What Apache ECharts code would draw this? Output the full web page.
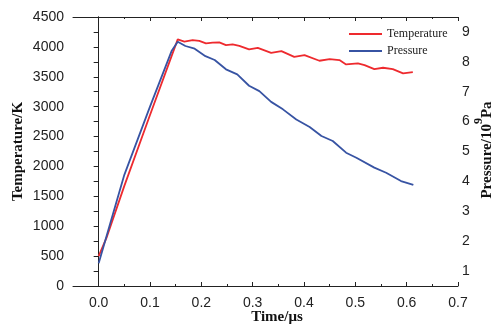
<!DOCTYPE html>
<html><head><meta charset="utf-8">
<script src="https://cdn.jsdelivr.net/npm/echarts@6/dist/echarts.min.js"></script>
<style>html,body{margin:0;padding:0;background:#fff}#c{width:493px;height:324px}</style>
</head><body><div id="c"></div>
<script>
// Temperature (K) vs time (us)
const timeT = [0, 0.015, 0.05, 0.1, 0.154, 0.167, 0.183, 0.196, 0.209, 0.222, 0.235, 0.248, 0.261, 0.274, 0.293, 0.310, 0.336, 0.356, 0.381, 0.401, 0.430, 0.450, 0.469, 0.482, 0.505, 0.518, 0.537, 0.554, 0.573, 0.593, 0.612];
const temperature = [500, 800, 1675, 2860, 4125, 4088, 4112, 4100, 4058, 4070, 4075, 4030, 4042, 4018, 3958, 3985, 3901, 3930, 3834, 3863, 3768, 3796, 3779, 3707, 3724, 3696, 3629, 3651, 3629, 3557, 3579];
// Pressure (10^9 Pa) vs time (us)
const timeP = [0, 0.015, 0.05, 0.1, 0.142, 0.154, 0.169, 0.187, 0.208, 0.226, 0.248, 0.270, 0.293, 0.313, 0.336, 0.359, 0.385, 0.411, 0.434, 0.456, 0.482, 0.502, 0.537, 0.560, 0.589, 0.613];
const pressure = [1.26, 2.15, 4.22, 6.5, 8.36, 8.67, 8.53, 8.44, 8.19, 8.06, 7.75, 7.58, 7.20, 7.02, 6.66, 6.41, 6.07, 5.82, 5.52, 5.35, 4.96, 4.79, 4.46, 4.29, 4.01, 3.88];
// tick labels
const xMajor = [0, 0.1, 0.2, 0.3, 0.4, 0.5, 0.6, 0.7];
const xMinor = [0.05, 0.15, 0.25, 0.35, 0.45, 0.55, 0.65];
const rightMajor = [1, 2, 3, 4, 5, 6, 7, 8, 9];
const rightMinor = [1.5, 2.5, 3.5, 4.5, 5.5, 6.5, 7.5, 8.5];

const axisColor = '#222';
const labelFont = {fontFamily: 'Liberation Sans', fontSize: 14, color: '#222'};
const titleFont = {fontFamily: 'Liberation Serif', fontWeight: 'bold', fontSize: 15, color: '#111'};

// right-axis title pieces: "Pressure/10" + superscript "9" + "Pa"
const rtParts = ['Pressure/10', '9', 'Pa'];
const mctx = document.createElement('canvas').getContext('2d');
function tw(s, size) { mctx.font = 'bold ' + size + 'px "Liberation Serif"'; return mctx.measureText(s).width; }
const w0 = tw(rtParts[0], 15), w1 = tw(rtParts[1], 12), w2 = tw(rtParts[2], 15);
const W = w0 + w1 + w2;
const tStyle = (txt, size) => ({text: txt, fontFamily: 'Liberation Serif', fontWeight: 'bold', fontSize: size, fill: '#111', align: 'left', verticalAlign: 'middle'});

function xAx(pos, ticks, len, showLine, showLabel) {
  return {
    type: 'value', position: pos, min: -0.05, max: 0.7,
    axisLine: {show: showLine, onZero: false, lineStyle: {color: axisColor, width: 1}},
    axisTick: {show: true, inside: true, length: len, customValues: ticks, lineStyle: {color: axisColor}},
    axisLabel: showLabel ? Object.assign({show: true, margin: 10, customValues: xMajor, formatter: v => v.toFixed(1)}, labelFont) : {show: false},
    splitLine: {show: false}
  };
}

const chart = echarts.init(document.getElementById('c'));
chart.setOption({
  animation: false,
  backgroundColor: '#fff',
  grid: {left: 73, right: 35, top: 17, bottom: 38, containLabel: false, outerBoundsMode: 'none'},
  legend: {
    data: ['Temperature', 'Pressure'], orient: 'vertical', left: 344, top: 22,
    itemWidth: 33, itemHeight: 2, itemGap: 3, icon: 'rect',
    textStyle: {fontFamily: 'Liberation Serif', fontSize: 12, color: '#222', lineHeight: 14}
  },
  graphic: [{
    type: 'group', x: 487, y: 150, rotation: Math.PI / 2,
    children: [
      {type: 'text', x: -W / 2, y: 0, style: tStyle(rtParts[0], 15)},
      {type: 'text', x: -W / 2 + w0, y: -8.5, style: tStyle(rtParts[1], 12)},
      {type: 'text', x: -W / 2 + w0 + w1, y: 0, style: tStyle(rtParts[2], 15)}
    ]
  }],
  xAxis: [
    Object.assign(xAx('bottom', xMajor, 4, true, true), {
      name: 'Time/\u03bcs', nameLocation: 'middle', nameGap: 24, nameMoveOverlap: false,
      nameTextStyle: Object.assign({padding: [0, 0, 0, 23]}, titleFont)
    }),
    xAx('bottom', xMinor, 2, false, false),
    xAx('top', xMajor, 4, true, false),
    xAx('top', xMinor, 2, false, false)
  ],
  yAxis: [
    {
      type: 'value', position: 'left', min: 0, max: 4500, interval: 500,
      name: 'Temperature/K', nameLocation: 'middle', nameRotate: 90, nameGap: 47, nameMoveOverlap: false,
      nameTextStyle: titleFont,
      axisLine: {show: true, lineStyle: {color: axisColor}},
      axisTick: {show: true, inside: false, length: 5, lineStyle: {color: axisColor}},
      minorTick: {show: true, splitNumber: 2, length: 3, lineStyle: {color: axisColor}},
      axisLabel: Object.assign({margin: 9, formatter: v => String(v)}, labelFont),
      splitLine: {show: false}
    },
    {
      type: 'value', position: 'right', min: 0.5, max: 9.5,
      axisLine: {show: true, lineStyle: {color: axisColor}},
      axisTick: {show: true, inside: true, length: 5, customValues: rightMajor, lineStyle: {color: axisColor}},
      axisLabel: Object.assign({margin: 4, customValues: rightMajor}, labelFont),
      splitLine: {show: false}
    },
    {
      type: 'value', position: 'right', min: 0.5, max: 9.5,
      axisLine: {show: false},
      axisTick: {show: true, inside: true, length: 3, customValues: rightMinor, lineStyle: {color: axisColor}},
      axisLabel: {show: false},
      splitLine: {show: false}
    }
  ],
  series: [
    {
      name: 'Temperature', type: 'line', xAxisIndex: 0, yAxisIndex: 0,
      symbol: 'none', color: '#ee2a2e', lineStyle: {width: 1.8, color: '#ee2a2e'},
      data: timeT.map((t, i) => [t, temperature[i]])
    },
    {
      name: 'Pressure', type: 'line', xAxisIndex: 0, yAxisIndex: 1,
      symbol: 'none', color: '#3753a3', lineStyle: {width: 1.8, color: '#3753a3'},
      data: timeP.map((t, i) => [t, pressure[i]])
    }
  ]
});
</script></body></html>
